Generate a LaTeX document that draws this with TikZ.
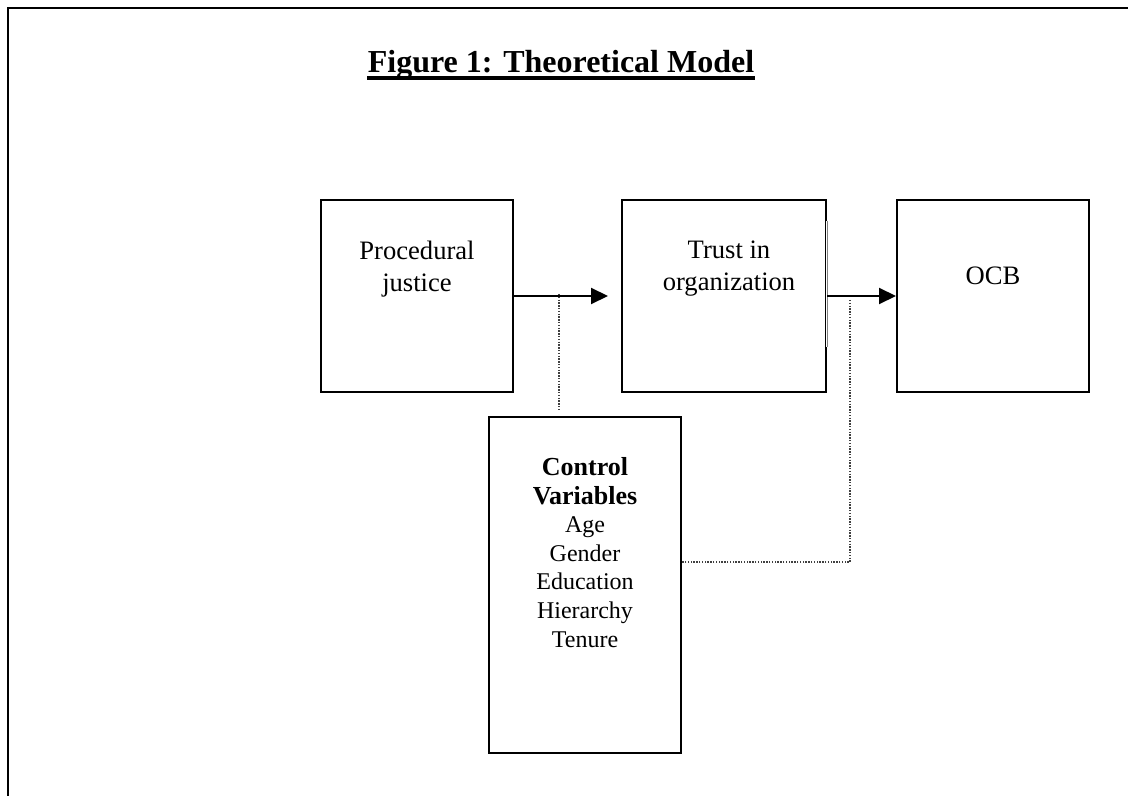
\documentclass[tikz,border=0pt]{standalone}
\usepackage{fontspec}
\setmainfont{Liberation Serif}
\usepackage{tikz}
\usetikzlibrary{arrows.meta,calc}

\begin{document}
\begin{tikzpicture}[x=0.5pt, y=-0.5pt,
		box/.style={draw, line width=1pt, minimum width=96pt, minimum height=96pt, inner sep=0pt},
		boxtext/.style={anchor=north, align=center, inner sep=0pt, font=\fontsize{13.3}{16}\selectfont},
		flow/.style={line width=1pt, -{Triangle[length=8.5pt,width=8pt]}},
		dotline/.style={line width=0.7pt, black!75, dash pattern=on 0.7pt off 0.7pt}]
	\useasboundingbox (0,0) rectangle (1128,796);
	% page frame
	\draw[line width=1.2pt] (1128,8) -- (8,8) -- (8,796);
	\node[anchor=base, inner sep=0pt, font=\fontsize{16}{19}\selectfont\bfseries] (title) at (561,73) {Figure 1: Theoretical Model};
	\draw[line width=1.6pt] ([yshift=-2.5pt]title.base west) -- ([yshift=-2.5pt]title.base east);

	% boxes
	\node[box] (pj) at (417,296) {};
	\node[box, minimum width=102pt] (to) at (724,296) {};
	\node[box] (ocb) at (993,296) {};
	\node[box, minimum height=168pt] (cv) at (585,585) {};
	\draw[white, line width=1.4pt] ([yshift=-11pt]to.north east) -- ([yshift=23pt]to.south east);
	\draw[gray, line width=0.5pt] ([yshift=-11pt]to.north east) -- ([yshift=23pt]to.south east);

	\node[boxtext] (pj-text) at (417,241) {Procedural\\justice};
	\node[boxtext] (to-text) at (729,240) {Trust in\\organization};
	\node[boxtext] (ocb-text) at (993,266) {OCB};
	\node[anchor=north, align=center, inner sep=0pt, font=\fontsize{12}{14.3}\selectfont] (cv-text) at (585,457)
		{{\fontsize{13}{15}\selectfont\bfseries Control}\\{\fontsize{13}{15}\selectfont\bfseries Variables}\\Age\\Gender\\Education\\Hierarchy\\Tenure};

	% links
	\draw[flow] (pj.east) -- ([xshift=-6.5pt]to.west);
	\draw[flow] (to.east) -- (ocb.west);
	\coordinate (pj-tap) at (559,294);
	\coordinate (to-tap) at (850,300);
	\draw[dotline, shorten >=2.5pt] (pj-tap) -- (pj-tap |- cv.north);
	\draw[dotline] (to-tap) |- ([yshift=11.5pt]cv.east);
\end{tikzpicture}
\end{document}
